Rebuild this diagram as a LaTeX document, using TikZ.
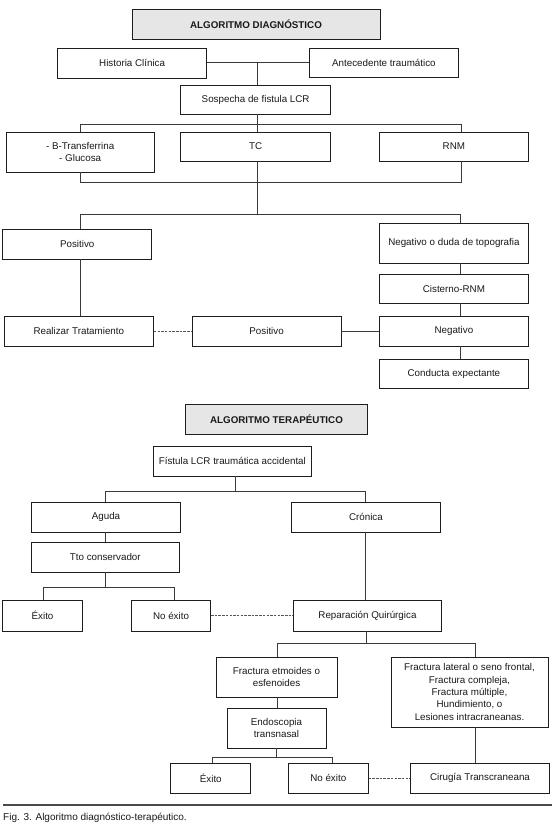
\documentclass[tikz,border=0pt]{standalone}
\usepackage{fontspec}
\setmainfont{Liberation Sans}
\definecolor{boxline}{HTML}{1E1E1E}
\definecolor{conn}{HTML}{3A3A3A}
\definecolor{titlefill}{HTML}{E6E6E6}
\definecolor{dashc}{HTML}{555555}
\definecolor{rulec}{HTML}{4A4A4A}
\definecolor{txt}{HTML}{1A1A1A}
\newcommand\bx[6][]{\node[box,#1,minimum width={(#4-#2)*1pt},minimum height={(#5-#3)*1pt}] (#6) at ({(#2+#4)/2},{(#3+#5)/2})}
\begin{document}
\begin{tikzpicture}[x=1pt,y=-1pt,
  box/.style={draw=boxline,line width=0.9pt,fill=white,inner sep=1pt,align=center,text=txt,font=\fontsize{9.8}{12.3}\selectfont},
  ttl/.style={fill=titlefill,font=\fontsize{9.8}{12}\selectfont\bfseries},
  link/.style={draw=conn,line width=0.9pt},
  dlink/.style={draw=dashc,line width=0.9pt,dash pattern=on 2.5pt off 1.2pt}]
\useasboundingbox (0,0) rectangle (554,827);
\fill[white] (0,0) rectangle (554,827);
% ---------- diagnostic ----------
\bx[ttl]{132}{9}{380}{39}{titleD} {ALGORITMO DIAGNÓSTICO};
\bx{57.6}{48}{206.7}{78}{hist} {Historia Clínica};
\bx{309.5}{48}{458.3}{77}{ante} {Antecedente traumático};
\bx{180.9}{85}{330.4}{114}{sosp} {Sospecha de fistula LCR};
\bx{6}{132}{154.4}{172}{bt} {- B-Transferrina\\- Glucosa};
\bx{180.9}{132}{330.4}{161}{tc} {TC};
\bx{379.2}{132}{528.6}{161}{rnm} {RNM};
\bx{2.8}{229}{151.6}{259}{posL} {Positivo};
\bx{379.2}{223}{528.6}{263}{neg1} {Negativo o duda de topografia};
\bx{379.2}{274}{528.6}{303}{cist} {Cisterno-RNM};
\bx{379.2}{316}{528.6}{346}{neg2} {Negativo};
\bx{379.2}{359}{528.6}{388}{cond} {Conducta expectante};
\bx{4.2}{316}{153.4}{346}{real} {Realizar Tratamiento};
\bx{192.2}{316}{341}{346}{posM} {Positivo};
\coordinate (jA) at (257.2,62);
\draw[link] (hist.east |- jA) -- (ante.west |- jA);
\draw[link] (jA) -- (jA |- sosp.north);
\coordinate (jB) at (257.2,124);
\coordinate (bL) at (80.6,124);
\coordinate (bR) at (461.1,124);
\draw[link] (jB |- sosp.south) -- (jB |- tc.north);
\draw[link] (bL |- bt.north) -- (bL) -- (bR) -- (bR |- rnm.north);
\coordinate (cL) at (80.6,182);
\coordinate (cR) at (461.1,182);
\draw[link] (cL |- bt.south) -- (cL) -- (cR) -- (cR |- rnm.south);
\coordinate (dL) at (80.6,214);
\coordinate (dR) at (460.4,214);
\draw[link] (jB |- tc.south) -- (jB |- dL);
\draw[link] (dL |- posL.north) -- (dL) -- (dR) -- (dR |- neg1.north);
\draw[link] (dL |- posL.south) -- (dL |- real.north);
\draw[link] (dR |- neg1.south) -- (dR |- cist.north);
\draw[link] (dR |- cist.south) -- (dR |- neg2.north);
\draw[link] (dR |- neg2.south) -- (dR |- cond.north);
\draw[dlink] (real.east) -- (posM.west);
\draw[link] (posM.east) -- (neg2.west);
% ---------- therapeutic ----------
\bx[ttl]{185.2}{404}{367.8}{434}{titleT} {ALGORITMO TERAPÉUTICO};
\bx{153.4}{446}{311.3}{476}{fist} {Fístula LCR traumática accidental};
\bx{31.8}{502}{180.2}{532}{aguda} {Aguda};
\bx{291.5}{502}{440.3}{532}{cron} {Crónica};
\bx{31.1}{542}{179.5}{572}{tto} {Tto conservador};
\bx{2.8}{600}{82.3}{631}{ex1} {Éxito};
\bx{131.4}{600}{210.6}{631}{nex1} {No éxito};
\bx{293.6}{600}{441.3}{631}{rep} {Reparación Quirúrgica};
\bx{216}{657}{337}{697}{etm} {Fractura etmoides o\\esfenoides};
\bx{391}{657}{548}{727}{lat} {Fractura lateral o seno frontal,\\Fractura compleja,\\Fractura múltiple,\\Hundimiento, o\\Lesiones intracraneanas.};
\bx{227}{708}{326}{748}{endo} {Endoscopia\\transnasal};
\bx{170.7}{763}{250.9}{793}{ex2} {Éxito};
\bx{288.3}{763}{368.2}{793}{nex2} {No éxito};
\bx{410.2}{763}{549.8}{793}{cir} {Cirugía Transcraneana};
\coordinate (eT) at (235.3,491);
\coordinate (eL) at (105.3,491);
\coordinate (eR) at (365,491);
\draw[link] (eT |- fist.south) -- (eT);
\draw[link] (eL |- aguda.north) -- (eL) -- (eR) -- (eR |- cron.north);
\draw[link] (eL |- aguda.south) -- (eL |- tto.north);
\coordinate (fL) at (43.5,587);
\coordinate (fR) at (174.2,587);
\coordinate (fT) at (105.3,587);
\draw[link] (fT |- tto.south) -- (fT);
\draw[link] (fL |- ex1.north) -- (fL) -- (fR) -- (fR |- nex1.north);
\draw[link] (eR |- cron.south) -- (eR |- rep.north);
\draw[dlink] (nex1.east) -- (rep.west);
\coordinate (gT) at (366,643.5);
\coordinate (gL) at (277,643.5);
\coordinate (gR) at (475,643.5);
\draw[link] (gT |- rep.south) -- (gT);
\draw[link] (gL |- etm.north) -- (gL) -- (gR) -- (gR |- lat.north);
\draw[link] (gL |- etm.south) -- (gL |- endo.north);
\draw[link] (gR |- lat.south) -- (gR |- cir.north);
\coordinate (hT) at (276,757);
\coordinate (hL) at (212,757);
\coordinate (hR) at (332,757);
\draw[link] (hT |- endo.south) -- (hT);
\draw[link] (hL |- ex2.north) -- (hL) -- (hR) -- (hR |- nex2.north);
\draw[dlink] (nex2.east) -- (cir.west);
% ---------- caption ----------
\coordinate (r1) at (3,805);
\coordinate (r2) at (552,805);
\draw[draw=rulec,line width=1.3pt] (r1) -- (r2);
\node[anchor=west,inner sep=0pt,text=txt,font=\fontsize{10}{12}\selectfont] (cap) at (3,818) {Fig. 3. Algoritmo diagnóstico-terapéutico.};
\end{tikzpicture}
\end{document}
